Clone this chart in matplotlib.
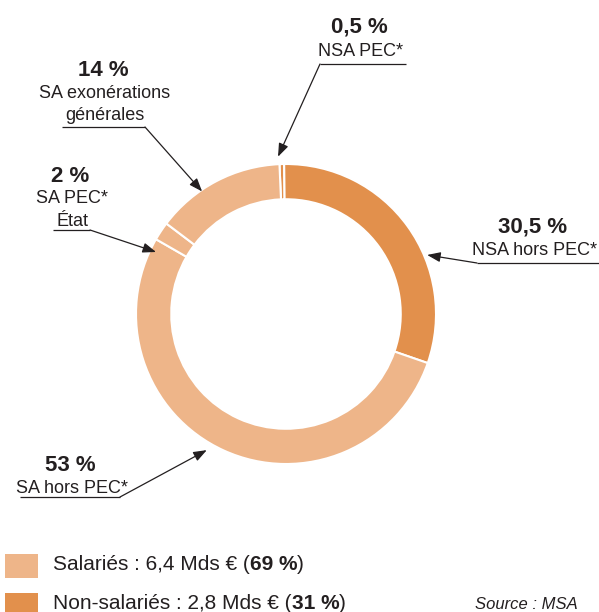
import numpy as np
import matplotlib
matplotlib.use("Agg")
import matplotlib.pyplot as plt
from matplotlib.patches import Rectangle

plt.rcParams['font.family'] = ['Liberation Sans', 'DejaVu Sans']

# donnees (sens horaire depuis le haut)
parts = [0.5, 30.5, 53, 2, 14]
noms = ['NSA PEC*', 'NSA hors PEC*', 'SA hors PEC*', 'SA PEC*\nÉtat', 'SA exonérations\ngénérales']
pct_txt = ['0,5 %', '30,5 %', '53 %', '2 %', '14 %']
groupe = ['NSA', 'NSA', 'SA', 'SA', 'SA']

legende_txt = [('Salariés : 6,4 Mds € (', '69 %', ')'),
               ('Non-salariés : 2,8 Mds € (', '31 %', ')')]

clair = '#EEB589'
fonce = '#E2904C'
encre = '#231F20'
couleurs = [fonce if g == 'NSA' else clair for g in groupe]

W, H = 599, 612
fig = plt.figure(figsize=(W / 100, H / 100), dpi=100)

# anneau : centre (286, 314) px, rayon 150 px
cx, cy, R = 286, 314, 150
ax = fig.add_axes([(cx - R) / W, (H - cy - R) / H, 2 * R / W, 2 * R / H])
ax.pie(parts, colors=couleurs, startangle=92.5, counterclock=False, radius=1,
       wedgeprops=dict(width=0.235, edgecolor='white', linewidth=1.5))
ax.set_xlim(-1, 1)
ax.set_ylim(-1, 1)
ax.set_aspect('equal')
ax.axis('off')

# calque en pixels (origine en haut a gauche)
ov = fig.add_axes([0, 0, 1, 1], zorder=5)
ov.set_xlim(0, W)
ov.set_ylim(H, 0)
ov.axis('off')
ov.patch.set_alpha(0)

# position des etiquettes : (x centre, base pct, base lignes, interligne, souligne x0, x1, y, depart fleche x, angle, r)
etiq = [
    (359, 33, 56, 22, 320, 406, 64, 320, 92.9, 1.05),
    (533, 233, 255, 22, 477, 599, 263, 477, 22.7, 1.02),
    (70, 471, 493, 22, 20, 120, 497, 120, 239.8, 1.05),
    (70, 182, 203, 23, 53, 90, 230, 90, 154.5, 0.96),
    (103, 76, 98, 22, 62, 145, 127, 145, 124.4, 0.99),
]

for i, (xc, yb, yl, dl, u0, u1, uy, ax0, ang, rr) in enumerate(etiq):
    ov.text(xc, yb, pct_txt[i], ha='center', va='baseline', fontsize=16,
            fontweight='bold', color=encre)
    for k, ligne in enumerate(noms[i].split('\n')):
        ov.text(xc + 2, yl + k * dl, ligne, ha='center', va='baseline',
                fontsize=13, color=encre)
    ov.plot([u0, u1], [uy, uy], color=encre, lw=0.9, solid_capstyle='butt')
    a = np.deg2rad(ang)
    tx = cx + R * rr * np.cos(a)
    ty = cy - R * rr * np.sin(a)
    ov.annotate('', xy=(tx, ty), xytext=(ax0, uy),
                arrowprops=dict(arrowstyle='-|>,head_length=0.8,head_width=0.3',
                                color=encre, lw=0.9, shrinkA=0, shrinkB=0))

# legende
fig.canvas.draw()
rend = fig.canvas.get_renderer()
leg_y = [570, 609]
for j, (avant, gras, apres) in enumerate(legende_txt):
    ov.add_patch(Rectangle((5, leg_y[j] - 16), 33, 24,
                           facecolor=[clair, fonce][j], edgecolor='none'))
    x = 53
    for morceau, poids in [(avant, 'normal'), (gras, 'bold'), (apres, 'normal')]:
        t = ov.text(x, leg_y[j], morceau, ha='left', va='baseline',
                    fontsize=15, fontweight=poids, color=encre)
        bb = t.get_window_extent(renderer=rend)
        x += bb.width

ov.text(578, 609, 'Source : MSA', ha='right', va='baseline', fontsize=12,
        fontstyle='italic', color=encre)

fig.savefig('out.png', dpi=100)
